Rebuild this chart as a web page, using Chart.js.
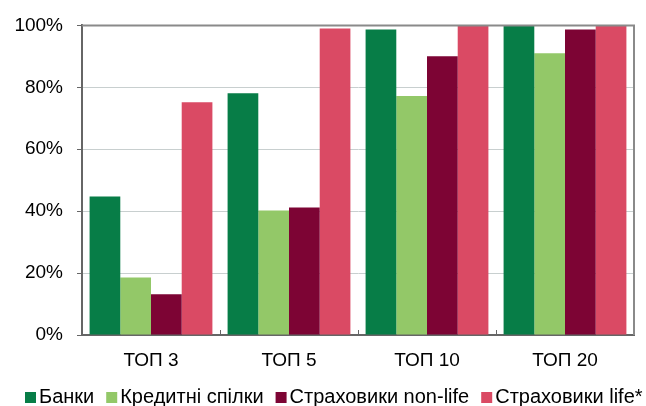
<!DOCTYPE html>
<html>
<head>
<meta charset="utf-8">
<script src="https://cdn.jsdelivr.net/npm/chart.js@4/dist/chart.umd.min.js"></script>
<style>
  html, body { margin: 0; padding: 0; background: #fff; }
  #wrap { width: 646px; height: 406px; position: relative; }
</style>
</head>
<body>
<div id="wrap"><canvas id="ch"></canvas></div>
<script>
// categories and series (share, %)
const categories = ['ТОП 3', 'ТОП 5', 'ТОП 10', 'ТОП 20'];
const banks      = [44.7, 78.1, 98.7, 100];
const creditU    = [18.6, 40.2, 77.2, 91.0];
const nonLife    = [13.2, 41.2, 90.0, 98.7];
const life       = [75.2, 99.0, 100, 100];
const seriesNames = ['Банки', 'Кредитні спілки', 'Страховики non-life', 'Страховики life*'];
const COLORS = ['#077d47', '#93c868', '#7d0434', '#da4a64'];

const FONT = "'Liberation Sans', Arial, sans-serif";

// frame on top/right + inward category ticks on the x axis
const framePlugin = {
  id: 'frame',
  afterDraw(chart) {
    const { ctx, chartArea: a, scales: { x } } = chart;
    ctx.save();
    ctx.strokeStyle = '#8a8a8a';
    ctx.lineWidth = 2;
    ctx.beginPath();
    ctx.moveTo(a.left, a.top); ctx.lineTo(a.right, a.top); ctx.lineTo(a.right, a.bottom);
    ctx.stroke();
    ctx.strokeStyle = '#666';
    ctx.lineWidth = 1;
    const half = (x.getPixelForValue(1) - x.getPixelForValue(0)) / 2;
    for (let i = 1; i < categories.length; i++) {
      const px = Math.round(x.getPixelForValue(i) - half) + 0.5;
      ctx.beginPath();
      ctx.moveTo(px, a.bottom);
      ctx.lineTo(px, a.bottom - 5);
      ctx.stroke();
    }
    ctx.restore();
  }
};

// compact legend: small square, tight gap to text
const legendPlugin = {
  id: 'tightLegend',
  afterDraw(chart) {
    const { ctx } = chart;
    ctx.save();
    ctx.font = '20px ' + FONT;
    ctx.textBaseline = 'middle';
    let x = 25;
    const y = 397;
    chart.data.datasets.forEach(ds => {
      ctx.fillStyle = ds.backgroundColor;
      ctx.fillRect(x, y - 5, 11, 11);
      x += 14;
      ctx.fillStyle = '#000';
      ctx.fillText(ds.label, x, y);
      x += ctx.measureText(ds.label).width + 12;
    });
    ctx.restore();
  }
};

new Chart(document.getElementById('ch'), {
  type: 'bar',
  data: {
    labels: categories,
    datasets: [banks, creditU, nonLife, life].map((d, i) => ({
      label: seriesNames[i],
      data: d,
      backgroundColor: COLORS[i],
      borderWidth: 0,
      barPercentage: 1.0,
      categoryPercentage: 0.89
    }))
  },
  options: {
    responsive: true,
    maintainAspectRatio: false,
    animation: false,
    layout: { padding: { top: 24, right: 12, left: 0, bottom: 31 } },
    scales: {
      x: {
        grid: { display: false },
        border: { color: '#666', width: 2 },
        ticks: { color: '#000', font: { family: FONT, size: 19 }, padding: 6 },
        afterFit(s) { s.height = 40; }
      },
      y: {
        min: 0, max: 100,
        ticks: {
          stepSize: 20,
          color: '#000',
          padding: 14,
          font: { family: FONT, size: 19 },
          callback: v => v + '%'
        },
        grid: { color: '#c8cfcf', lineWidth: 1, tickLength: 5, tickColor: '#666', drawTicks: true },
        border: { color: '#666', width: 2 },
        afterFit(s) { s.width = 82; }
      }
    },
    plugins: {
      legend: { display: false },
      tooltip: { enabled: false }
    }
  },
  plugins: [framePlugin, legendPlugin]
});
</script>
</body>
</html>
